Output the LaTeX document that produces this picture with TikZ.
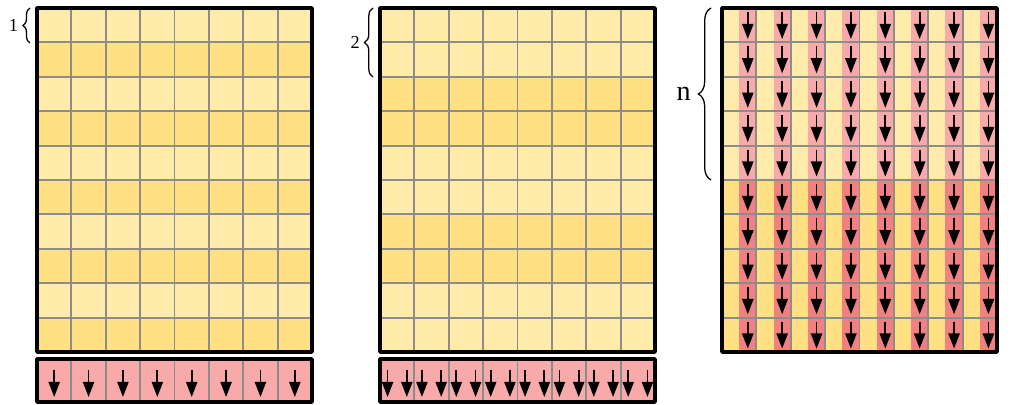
\documentclass[tikz,border=0pt]{standalone}
\usepackage{fontspec}
\setmainfont{Liberation Serif}
\usetikzlibrary{arrows.meta,decorations.pathreplacing}

\definecolor{lightyel}{HTML}{FFEBAA}
\definecolor{darkyel}{HTML}{FFE083}
\definecolor{lightpink}{HTML}{F8A9A9}
\definecolor{darkpink}{HTML}{F28080}
\definecolor{gridgray}{HTML}{8C8C8C}

\tikzset{
  cellline/.style={gridgray, line width=1.3pt},
  frame/.style={line width=2.6pt, line join=round},
  downarrow/.style={line width=1.3pt, -{Triangle[length=3.8mm,width=2.8mm]}},
  bracelbl/.style={decorate, decoration={brace, amplitude=#1}, line width=0.9pt},
}

\begin{document}
\begin{tikzpicture}[x=0.025cm, y=-0.025cm]
    % pixel coordinates: x to the right, y downwards
    \useasboundingbox (0,0) rectangle (1011,405);

    % ===== GRID 1 (x=37..312): rows alternate one by one =====
    \foreach \r in {0,2,...,8} {
      \fill[lightyel] (37,{8+\r*34.4}) rectangle (312,{8+(\r+1)*34.4});
    }
    \foreach \r in {1,3,...,9} {
      \fill[darkyel]  (37,{8+\r*34.4}) rectangle (312,{8+(\r+1)*34.4});
    }
    \foreach \i in {1,...,7} {
      \draw[cellline] ({37+\i*34.375},8) -- ({37+\i*34.375},352);
    }
    \foreach \j in {1,...,9} {
      \draw[cellline] (37,{8+\j*34.4}) -- (312,{8+\j*34.4});
    }
    \draw[frame] (37,8) rectangle (312,352);

    % brace over the first row
    \draw[bracelbl=5pt] (30,43) -- (30,8)
      node[midway, left=8pt, inner sep=0pt, font=\fontsize{13}{15}\selectfont] (cntone) {1};

    % bar 1: one arrow per cell
    \fill[lightpink] (37,359) rectangle (312,402);
    \foreach \i in {1,...,7} {
      \draw[cellline] ({37+\i*34.375},359) -- ({37+\i*34.375},402);
    }
    \foreach \i in {0,...,7} {
      \draw[downarrow] ({37+(\i+0.5)*34.375},370) -- ({37+(\i+0.5)*34.375},397);
    }
    \draw[frame] (37,359) rectangle (312,402);

    % ===== GRID 2 (x=380..655): rows alternate two by two =====
    \foreach \b in {0,2,4} {
      \fill[lightyel] (380,{8+\b*68.8}) rectangle (655,{8+(\b+1)*68.8});
    }
    \foreach \b in {1,3} {
      \fill[darkyel]  (380,{8+\b*68.8}) rectangle (655,{8+(\b+1)*68.8});
    }
    \foreach \i in {1,...,7} {
      \draw[cellline] ({380+\i*34.375},8) -- ({380+\i*34.375},352);
    }
    \foreach \j in {1,...,9} {
      \draw[cellline] (380,{8+\j*34.4}) -- (655,{8+\j*34.4});
    }
    \draw[frame] (380,8) rectangle (655,352);

    % brace over the first two rows
    \draw[bracelbl=6pt] (373,77) -- (373,8)
      node[midway, left=9pt, inner sep=0pt, font=\fontsize{13}{15}\selectfont] (cnttwo) {2};

    % bar 2: two arrows per cell
    \fill[lightpink] (380,359) rectangle (655,402);
    \foreach \i in {1,...,7} {
      \draw[cellline] ({380+\i*34.375},359) -- ({380+\i*34.375},402);
    }
    \foreach \i in {0,...,7} {
      \foreach \f in {0.22,0.78} {
        \draw[downarrow] ({380+(\i+\f)*34.375},370) -- ({380+(\i+\f)*34.375},397);
      }
    }
    \draw[frame] (380,359) rectangle (655,402);

    % ===== GRID 3 (x=722..997): n rows, half of every cell red =====
    \fill[lightyel] (722,8)   rectangle (997,180);
    \fill[darkyel]  (722,180) rectangle (997,352);
    \foreach \i in {0,...,7} {
      \fill[lightpink] ({722+(\i+0.5)*34.375},8)   rectangle ({722+(\i+1)*34.375},180);
      \fill[darkpink]  ({722+(\i+0.5)*34.375},180) rectangle ({722+(\i+1)*34.375},352);
    }
    \foreach \i in {0,...,7} {
      \foreach \j in {0,...,9} {
        \draw[downarrow] ({722+(\i+0.75)*34.375},{8+\j*34.4+4})
          -- ({722+(\i+0.75)*34.375},{8+\j*34.4+31});
      }
    }
    \foreach \i in {1,...,7} {
      \draw[cellline] ({722+\i*34.375},8) -- ({722+\i*34.375},352);
    }
    \foreach \j in {1,...,9} {
      \draw[cellline] (722,{8+\j*34.4}) -- (997,{8+\j*34.4});
    }
    \draw[frame] (722,8) rectangle (997,352);

    % brace over the first n rows
    \draw[bracelbl=9pt] (711,180) -- (711,8)
      node[midway, left=14pt, inner sep=0pt, font=\fontsize{20}{24}\selectfont] (cntn) {n};

  \end{tikzpicture}
\end{document}
